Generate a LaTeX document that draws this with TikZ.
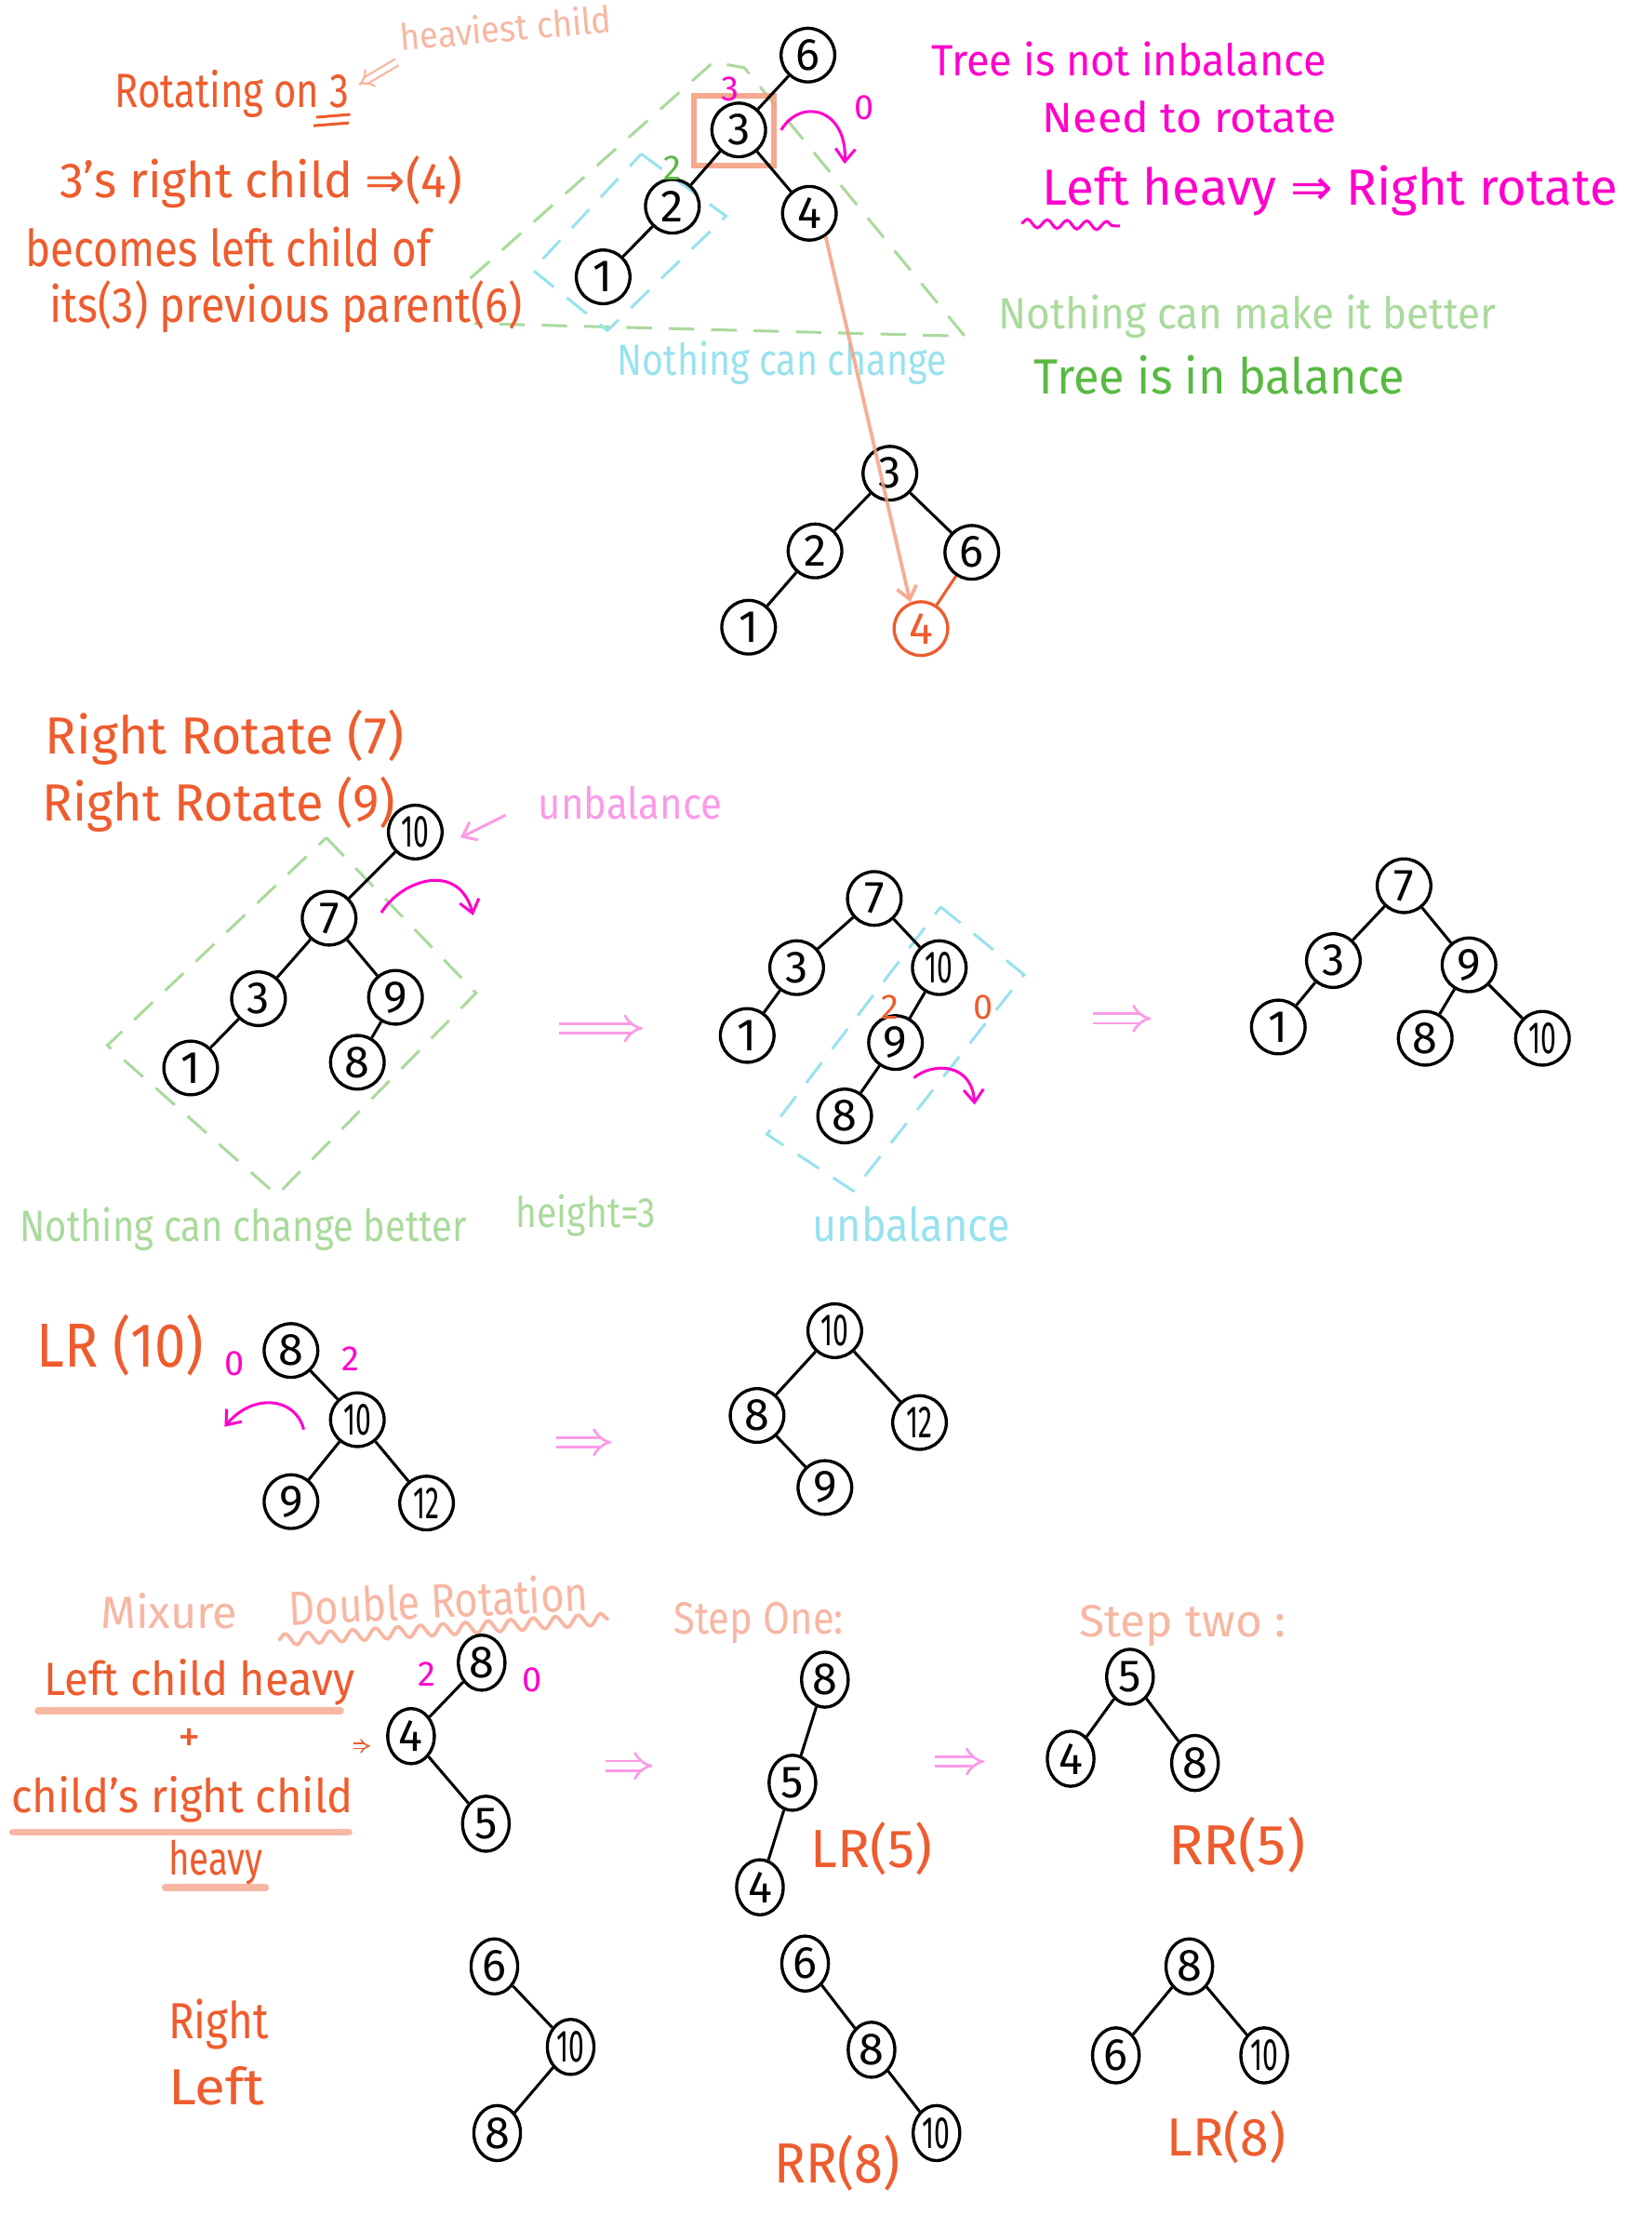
\documentclass[tikz,border=0pt]{standalone}
\usepackage{fontspec}
\setmainfont{Fira Sans}
\newfontfamily\dv{DejaVu Sans}
\usetikzlibrary{arrows.meta,shapes.geometric,decorations.pathmorphing}
\definecolor{ora}{RGB}{238,92,46}
\definecolor{sal}{RGB}{247,183,163}
\definecolor{sqr}{RGB}{244,160,130}
\definecolor{mag}{RGB}{255,0,204}
\definecolor{pnk}{RGB}{250,155,232}
\definecolor{lgr}{RGB}{170,218,156}
\definecolor{grn}{RGB}{88,186,66}
\definecolor{cyn}{RGB}{152,226,238}
\newcommand\hw[3]{\resizebox{#1pt}{\height}{\fontsize{#2}{#2}\selectfont #3}}
\newcommand\tw[1]{\scalebox{0.62}[1]{#1}}
\begin{document}
\begin{tikzpicture}[x=1pt,y=-1pt,
  nd/.style={circle,draw,line width=2.2pt,minimum size=38pt,inner sep=0pt,font=\fontsize{32}{32}\selectfont},
  ne/.style={ellipse,draw,line width=2.2pt,minimum width=33pt,minimum height=39pt,inner sep=0pt,font=\fontsize{32}{32}\selectfont},
  edge/.style={line width=2pt},
  tx/.style={inner sep=0pt,anchor=base west},
  lab/.style={inner sep=0pt,font=\fontsize{25}{25}\selectfont},
  dsh/.style={line width=2pt,dash pattern=on 18pt off 12pt},
  dblar/.style={line width=1.8pt,double,double distance=5pt,-{Implies}},
  barb/.style={-{Straight Barb[length=9pt,width=14pt]}},
  wavy/.style={decorate,decoration={snake,amplitude=3pt,segment length=14pt}},
  bar/.style={sal,line width=5pt,line cap=round}
]
\fill[white] (0,0) rectangle (1169,1568);
\useasboundingbox (0,0) rectangle (1169,1568);

% ---------------- Section 1 ----------------
\draw[lgr,dsh] (333,197) -- (505,44) -- (527,48) -- (683,238) -- (336,229);
\draw[cyn,dsh] (454,109) -- (514,153) -- (430,234) -- (377,191) -- cycle;
\draw[sqr,line width=4pt,opacity=0.9] (491,68) rectangle (548,117);

\node[nd] (a6) at (572,39) {6};
\node[nd] (a3) at (523,92) {3};
\node[nd] (a2) at (476,146) {2};
\node[nd] (a4) at (573,151) {4};
\node[nd] (a1) at (427,196) {1};
\draw[edge] (a6)--(a3) (a3)--(a2) (a3)--(a4) (a2)--(a1);

\node[lab,mag] (l3) at (517,63) {3};
\node[lab,grn] (l2) at (476,119) {2};
\node[lab,mag] (l0) at (612,76) {0};
\draw[mag,line width=2pt,barb] (553,92) .. controls (568,68) and (600,78) .. (598,116);

\node[tx,ora] (t1) at (81,76) {\hw{166}{34}{Rotating on 3}};
\draw[ora,line width=2pt] (224,83) -- (248,81) (222,89) -- (247,87);
\node[tx,sal,rotate=5] (t2) at (284,36) {\hw{150}{26}{heaviest child}};
\draw[sal,line width=1.5pt,double,double distance=3.5pt,-{Implies}] (281,44) -- (254,60);
\node[tx,ora] (t3) at (42,140) {\hw{285}{35}{3’s right child {\dv ⇒}(4)}};
\node[tx,ora] (t4) at (18,189) {\hw{287}{36}{becomes left child of}};
\node[tx,ora] (t5) at (35,228) {\hw{335}{35}{its(3) previous parent(6)}};

\node[tx,mag] (t6) at (659,54) {\hw{280}{31}{Tree is not inbalance}};
\node[tx,mag] (t7) at (738,94) {\hw{208}{30}{Need to rotate}};
\node[tx,mag] (t8) at (738,145) {\hw{407}{36}{Left heavy {\dv ⇒} Right rotate}};
\draw[mag,line width=2pt,wavy] (723,158) -- (793,160);
\node[tx,lgr] (t9) at (707,233) {\hw{352}{31}{Nothing can make it better}};
\node[tx,grn] (t10) at (732,279) {\hw{262}{35}{Tree is in balance}};
\node[tx,cyn] (t11) at (437,266) {\hw{233}{31}{Nothing can change}};

\node[nd] (b3) at (630,335) {3};
\node[nd] (b2) at (577,390) {2};
\node[nd] (b6) at (688,391) {6};
\node[nd] (b1) at (530,444) {1};
\node[nd,ora] (b4) at (652,445) {4};
\draw[edge] (b3)--(b2) (b3)--(b6) (b2)--(b1);
\draw[edge,ora] (b6)--(b4);
\draw[sqr,line width=2.5pt,opacity=0.85,barb] (a4.-55) -- (b4.112);

% ---------------- Section 2 ----------------
\node[tx,ora] (t12) at (32,534) {\hw{254}{37}{Right Rotate (7)}};
\node[tx,ora] (t13) at (30,581) {\hw{250}{37}{Right Rotate (9)}};
\draw[lgr,dsh] (231,593) -- (337,703) -- (196,846) -- (76,740) -- cycle;
\node[nd] (c10) at (294,589) {\tw{10}};
\node[nd] (c7) at (233,650) {7};
\node[nd] (c3) at (183,707) {3};
\node[nd] (c9) at (280,706) {9};
\node[nd] (c1) at (135,756) {1};
\node[nd] (c8) at (253,752) {8};
\draw[edge] (c10)--(c7) (c7)--(c3) (c7)--(c9) (c3)--(c1) (c9)--(c8);
\draw[pnk,line width=2pt,barb] (358,577) -- (326,593);
\node[tx,pnk] (t14) at (381,580) {\hw{130}{31}{unbalance}};
\draw[mag,line width=2pt,barb] (270,646) .. controls (285,622) and (325,610) .. (335,648);
\node[tx,lgr] (t15) at (14,879) {\hw{316}{31}{Nothing can change better}};
\node[tx,lgr] (t16) at (365,869) {\hw{99}{30}{height=3}};
\draw[pnk,dblar] (396,728) -- (455,728);

\draw[cyn,dsh] (666,642) -- (725,690) -- (604,843) -- (543,803) -- cycle;
\node[nd] (d7) at (619,636) {7};
\node[nd] (d3) at (564,685) {3};
\node[nd] (d10) at (665,685) {\tw{10}};
\node[nd] (d1) at (529,733) {1};
\node[nd] (d9) at (634,738) {9};
\node[nd] (d8) at (598,790) {8};
\draw[edge] (d7)--(d3) (d7)--(d10) (d3)--(d1) (d10)--(d9) (d9)--(d8);
\node[lab,ora] (l4) at (630,713) {2};
\node[lab,ora] (l5) at (696,713) {0};
\draw[mag,line width=2pt,barb] (647,763) .. controls (660,752) and (688,752) .. (690,782);
\node[tx,cyn] (t17) at (575,879) {\hw{140}{33}{unbalance}};
\draw[pnk,dblar] (774,721) -- (815,721);

\node[nd] (e7) at (994,627) {7};
\node[nd] (e3) at (944,680) {3};
\node[nd] (e9) at (1040,683) {9};
\node[nd] (e1) at (905,727) {1};
\node[nd] (e8) at (1009,735) {8};
\node[nd] (e10) at (1092,735) {\tw{10}};
\draw[edge] (e7)--(e3) (e7)--(e9) (e3)--(e1) (e9)--(e8) (e9)--(e10);

% ---------------- Section 3 ----------------
\node[tx,ora] (t18) at (26,968) {\hw{118}{44}{LR (10)}};
\node[lab,mag] (l6) at (166,965) {0};
\node[lab,mag] (l7) at (248,962) {2};
\node[nd] (f8) at (206,956) {8};
\node[nd] (f10) at (253,1005) {\tw{10}};
\node[nd] (f9) at (206,1063) {9};
\node[nd] (f12) at (302,1064) {\tw{12}};
\draw[edge] (f8)--(f10) (f10)--(f9) (f10)--(f12);
\draw[mag,line width=2pt,barb] (215,1012) .. controls (210,990) and (180,985) .. (159,1010);
\draw[pnk,dblar] (394,1021) -- (433,1021);
\node[nd] (g10) at (591,942) {\tw{10}};
\node[nd] (g8) at (536,1002) {8};
\node[nd] (g12) at (651,1007) {\tw{12}};
\node[nd] (g9) at (584,1053) {9};
\draw[edge] (g10)--(g8) (g10)--(g12) (g8)--(g9);

% ---------------- Section 4 ----------------
\node[tx,sal] (t19) at (71,1153) {\hw{97}{32}{Mixure}};
\node[tx,sal,rotate=3] (t20) at (205,1151) {\hw{212}{34}{Double Rotation}};
\draw[sal,line width=2.5pt,decorate,decoration={snake,amplitude=4pt,segment length=16pt}] (197,1161) -- (431,1146);
\node[tx,ora] (t21) at (31,1200) {\hw{220}{33}{Left child heavy}};
\draw[bar] (27,1211) -- (241,1211);
\node[ora,inner sep=0pt,font=\fontsize{32}{32}\selectfont] (plus) at (134,1232) {+};
\node[tx,ora] (t22) at (8,1283) {\hw{242}{33}{child’s right child}};
\draw[bar] (9,1297) -- (247,1297);
\node[tx,ora] (t23) at (119,1327) {\hw{67}{33}{heavy}};
\draw[bar] (117,1336) -- (188,1336);
\draw[ora,line width=1pt,double,double distance=2.5pt,-{Implies}] (250,1236) -- (262,1236);
\node[ne] (h8) at (341,1177) {8};
\node[ne] (h4) at (291,1229) {4};
\node[ne] (h5) at (344,1291) {5};
\draw[edge] (h8)--(h4) (h4)--(h5);
\node[lab,mag] (l8) at (302,1185) {2};
\node[lab,mag] (l9) at (377,1189) {0};
\draw[pnk,dblar] (429,1250) -- (462,1250);

\node[tx,sal] (t24) at (477,1157) {\hw{120}{32}{Step One:}};
\node[ne] (i8) at (584,1189) {8};
\node[ne] (i5) at (561,1262) {5};
\node[ne] (i4) at (538,1336) {4};
\draw[edge] (i8)--(i5) (i5)--(i4);
\node[tx,ora] (t25) at (574,1322) {\hw{86}{38}{LR(5)}};
\draw[pnk,dblar] (662,1247) -- (697,1247);

\node[tx,sal] (t26) at (764,1159) {\hw{146}{32}{Step two :}};
\node[ne] (j5) at (800,1187) {5};
\node[ne] (j4) at (758,1245) {4};
\node[ne] (j8) at (846,1248) {8};
\draw[edge] (j5)--(j4) (j5)--(j8);
\node[tx,ora] (t27) at (827,1320) {\hw{97}{40}{RR(5)}};

% ---------------- Section 5 ----------------
\node[tx,ora] (t28) at (119,1443) {\hw{71}{36}{Right}};
\node[tx,ora] (t29) at (119,1490) {\hw{68}{36}{Left}};
\node[ne] (k6) at (350,1392) {6};
\node[ne] (k10) at (404,1449) {\tw{10}};
\node[ne] (k8) at (352,1510) {8};
\draw[edge] (k6)--(k10) (k10)--(k8);
\node[ne] (m6) at (570,1390) {6};
\node[ne] (m8) at (617,1451) {8};
\node[ne] (m10) at (663,1510) {\tw{10}};
\draw[edge] (m6)--(m8) (m8)--(m10);
\node[tx,ora] (t30) at (548,1545) {\hw{89}{40}{RR(8)}};
\node[ne] (n8) at (842,1392) {8};
\node[ne] (n6) at (790,1455) {6};
\node[ne] (n10) at (895,1455) {\tw{10}};
\draw[edge] (n8)--(n6) (n8)--(n10);
\node[tx,ora] (t31) at (826,1526) {\hw{84}{38}{LR(8)}};
\end{tikzpicture}
\end{document}
